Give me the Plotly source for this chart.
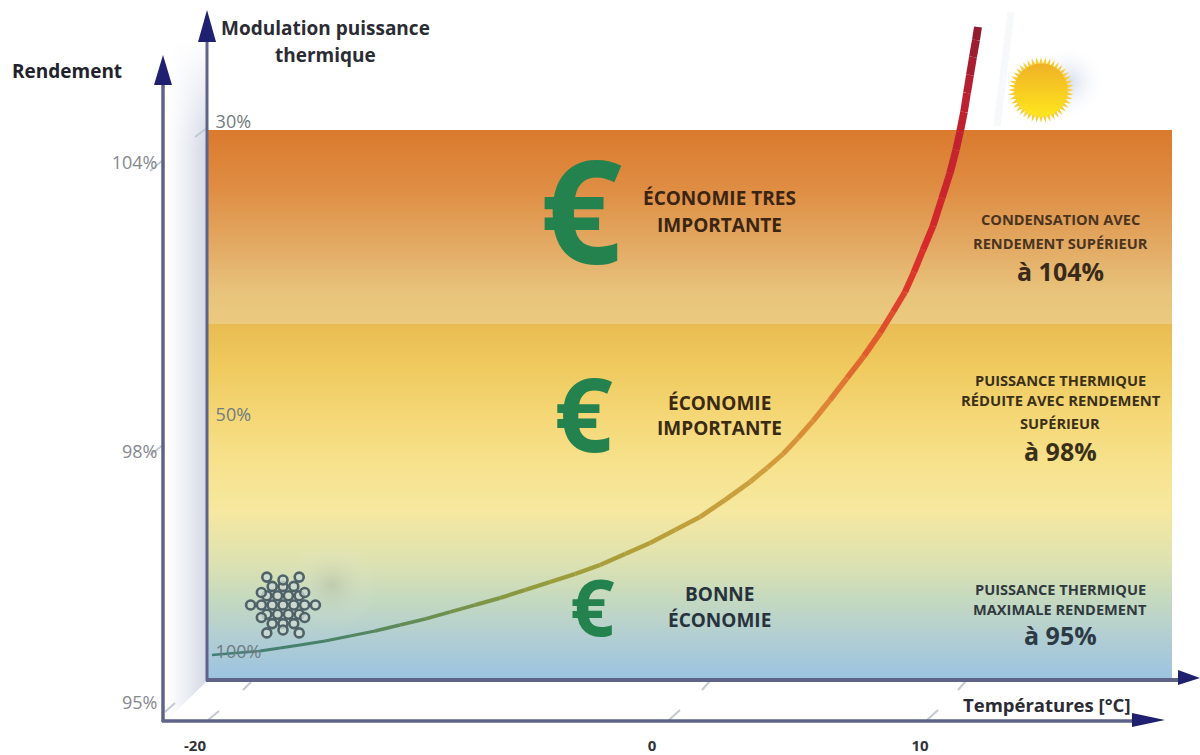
import numpy as np
import plotly.graph_objects as go
from plotly.colors import sample_colorscale

FONT = "Open Sans"

# --- values (schematic chart units, top-left origin) ---
curve_x = [212, 235, 260, 280, 300, 325, 350, 375, 400, 425, 450, 475, 500, 525, 550, 575, 600, 625, 650, 675, 700, 725, 750,
           767, 783, 798, 813, 830, 847, 864, 880, 893, 905, 914, 923, 933, 942, 950, 956, 960, 964, 967, 970, 973, 976, 978]
curve_y = [655, 653, 651, 648, 645, 641, 636, 631, 625, 619, 612, 605, 598, 590, 582, 574, 565, 554, 543, 530, 517, 500, 482,
           468, 454, 438, 421, 400, 378, 356, 333, 312, 292, 272, 250, 226, 198, 173, 150, 132, 112, 93, 75, 57, 40, 27]
# colour and width along the curve, by distance across the chart
curve_color_stops = [[0, "#3F7F7A"], [0.15, "#4A8268"], [0.3, "#6C9050"], [0.42, "#929C3C"], [0.6, "#BCA03A"], [0.72, "#D0A03E"],
                     [0.8, "#DE8434"], [0.87, "#E0562C"], [0.93, "#D82A2A"], [0.985, "#BC2030"], [1, "#8E1C30"]]
curve_width_at = [212, 500, 800, 900, 978]
curve_width_val = [2.5, 4, 5, 6, 8]

band_y = [130, 190, 250, 290, 323.9, 324, 370, 420, 470, 510, 560, 600, 640, 678]
band_colors = ["#DA7A2E", "#DF8E44", "#E3AC66", "#E8C27A", "#EBCB80", "#E9BC52", "#EFCB60", "#F5D878", "#F7E38F",
               "#F6E8A0", "#DEE2B0", "#C4D9C0", "#B0CDD4", "#9CC3E0"]

x_tick_pos = [195, 652, 920]
x_tick_text = ["-20", "0", "10"]
rend_pos = [163, 452, 703]
rend_text = ["104%", "98%", "95%"]
mod_pos = [122, 415, 652]
mod_text = ["30%", "50%", "100%"]

label_text = ["Modulation puissance", "thermique", "Rendement", "Températures [°C]",
              "ÉCONOMIE TRES", "IMPORTANTE", "ÉCONOMIE", "IMPORTANTE", "BONNE", "ÉCONOMIE",
              "CONDENSATION AVEC", "RENDEMENT SUPÉRIEUR", "à 104%",
              "PUISSANCE THERMIQUE", "RÉDUITE AVEC RENDEMENT", "SUPÉRIEUR", "à 98%",
              "PUISSANCE THERMIQUE", "MAXIMALE RENDEMENT", "à 95%"]
label_x = [325, 325, 67, 1047, 719, 719, 719, 719, 719, 719, 1060, 1060, 1060, 1060, 1061, 1060, 1060, 1060, 1060, 1060]
label_y = [28, 55, 71, 704, 198, 225, 403, 428, 594, 620, 219, 243, 271, 380, 400, 423, 451, 589, 609, 635]
label_size = [19, 19, 19, 18.5, 19, 19, 19, 19, 19, 19, 14.6, 14.6, 25, 14.6, 14.8, 14.6, 25, 14.6, 14.6, 25]
label_color = ["#2B2B33", "#2B2B33", "#22222A", "#2B2B33", "#3A2412", "#3A2412", "#3A2A12", "#3A2A12", "#27333C", "#27333C",
               "#4A3420", "#4A3420", "#3A2A1A", "#3A3018", "#3A3018", "#3A3018", "#3A3018", "#303A40", "#303A40", "#2B3A44"]

euro_x = [581, 583, 592]
euro_y = [208, 412, 606]
euro_size = [144, 103, 78]
EURO_GREEN = "#24824F"

tick_marks_x = [[195, 207], [150, 163], [150, 163], [165, 175], [243, 251], [208, 219], [702, 710], [668, 680], [958, 966], [926, 938]]
tick_marks_y = [[137, 128], [171, 160], [455, 445], [712, 703], [690, 682], [720, 711], [690, 681], [721, 710], [690, 681], [721, 710]]

fig = go.Figure()

# side wall shading
wall_x = np.linspace(165, 207, 43)
wall_y = np.arange(35, 722, 3.0)
wall_z = [[((c - 165) / 42) ** 1.2 * min(1, max(0, (r - 35) / 110)) for c in wall_x[:-1]] for r in wall_y[:-1]]
fig.add_trace(go.Heatmap(x=wall_x, y=wall_y, z=wall_z, zmin=0, zmax=1, showscale=False, hoverinfo="skip",
                         colorscale=[[0, "#FFFFFF"], [1, "#D2D7E4"]]))
fig.add_trace(go.Scatter(x=[165, 207, 207, 165], y=[722, 681, 722, 722], mode="lines", fill="toself",
                         fillcolor="#FFFFFF", line=dict(width=0), hoverinfo="skip"))

# background band gradient
grid_y = np.arange(130, 681, 1.0)
stops = [[(v - band_y[0]) / (band_y[-1] - band_y[0]), c] for v, c in zip(band_y, band_colors)]
fig.add_trace(go.Heatmap(x=[208, 1172], y=grid_y, z=[[float(v)] for v in grid_y[:-1]], zmin=band_y[0], zmax=band_y[-1],
                         colorscale=stops, showscale=False, hoverinfo="skip"))

# soft shadows and faint streak
fig.add_trace(go.Scatter(x=[1068, 332], y=[82, 585], mode="markers", hoverinfo="skip", marker=dict(
    size=[76, 90], color=["rgba(255,255,255,0)", "rgba(255,255,255,0)"],
    gradient=dict(type="radial", color=["rgba(175,190,215,0.75)", "rgba(150,160,140,0.40)"]), line=dict(width=0))))
fig.add_trace(go.Scatter(x=[1011, 997], y=[12, 126], mode="lines", line=dict(color="#F6F8FA", width=7), hoverinfo="skip"))

# tick dashes
for xs, ys in zip(tick_marks_x, tick_marks_y):
    fig.add_trace(go.Scatter(x=xs, y=ys, mode="lines", line=dict(color="#C4C8D2", width=2), hoverinfo="skip"))

# axes
for xs, ys, w in [([163, 163], [722, 80], 3.5), ([207, 207], [681, 38], 3), ([162, 1140], [721, 721], 3.5), ([206, 1182], [680, 680], 4)]:
    fig.add_trace(go.Scatter(x=xs, y=ys, mode="lines", line=dict(color="#5F6388", width=w), hoverinfo="skip"))
for xs, ys in [([207, 216, 198], [10, 42, 42]), ([163, 172, 154], [55, 85, 85]),
               ([1200, 1178, 1178], [678, 670, 685]), ([1165, 1132, 1132], [720, 713, 727])]:
    fig.add_trace(go.Scatter(x=xs, y=ys, mode="lines", fill="toself", fillcolor="#1F2070", line=dict(width=0), hoverinfo="skip"))

# curve drawn piece by piece, so colour and width can change along it
span = curve_x[-1] - curve_x[0]
for i in range(len(curve_x) - 1):
    f = (curve_x[i] + curve_x[i + 1]) / 2
    c = sample_colorscale(curve_color_stops, [(f - curve_x[0]) / span])[0]
    w = float(np.interp(f, curve_width_at, curve_width_val))
    fig.add_trace(go.Scatter(x=curve_x[i:i + 2], y=curve_y[i:i + 2], mode="lines", hoverinfo="skip", line=dict(color=c, width=w)))

# snowflake: hex lattice of rings with six corner points
sx, sy = [], []
for q in range(-3, 4):
    for r in range(-3, 4):
        s = -q - r
        if max(abs(q), abs(r), abs(s)) > 3:
            continue
        if max(abs(q), abs(r), abs(s)) == 3 and min(abs(q), abs(r), abs(s)) != 0:
            continue
        sx.append(283 + 10.8 * (q + r / 2))
        sy.append(605 + 9.3 * r)
for a in np.deg2rad(np.arange(30, 360, 60)):
    sx.append(283 + 25 * np.cos(a))
    sy.append(605 + 25 * np.sin(a))
fig.add_trace(go.Scatter(x=sx, y=sy, mode="markers", hoverinfo="skip",
                         marker=dict(symbol="circle", size=9, color="rgba(205,218,210,0.8)", line=dict(width=2.6, color="#4E6268"))))

# sun
ang = np.linspace(0, 2 * np.pi, 89)
rad = np.where(np.arange(89) % 2 == 0, 33, 26)
fig.add_trace(go.Scatter(x=1041 + rad * np.cos(ang), y=90 + rad * np.sin(ang), mode="lines", fill="toself",
                         fillcolor="#F8CE38", line=dict(width=0), hoverinfo="skip"))
fig.add_trace(go.Scatter(x=[1041], y=[90], mode="markers", hoverinfo="skip",
                         marker=dict(size=53, color="#EFB126", gradient=dict(type="vertical", color="#FFE61E"), line=dict(width=0))))

# hidden trace that carries the second y axis
fig.add_trace(go.Scatter(x=[207] * 3, y=mod_pos, yaxis="y2", mode="markers", marker=dict(opacity=0), hoverinfo="skip"))

# euro signs
for ex, ey, es in zip(euro_x, euro_y, euro_size):
    fig.add_annotation(x=ex, y=ey, text="<b>€</b>", showarrow=False, font=dict(family=FONT, size=es, color=EURO_GREEN),
                       xanchor="center", yanchor="middle")

for t, x, y, s, c in zip(label_text, label_x, label_y, label_size, label_color):
    fig.add_annotation(x=x, y=y, text=f"<b>{t}</b>", showarrow=False, font=dict(family=FONT, size=s, color=c),
                       xanchor="center", yanchor="middle")

fig.update_layout(
    width=1200, height=755, margin=dict(l=0, r=0, t=0, b=0, pad=0, autoexpand=False), paper_bgcolor="white", plot_bgcolor="white", showlegend=False,
    xaxis=dict(range=[0, 1200], tickvals=x_tick_pos, ticktext=[f"<b>{t}</b>" for t in x_tick_text], anchor="free", position=34 / 755,
               automargin=False, showgrid=False, zeroline=False, showline=False, ticks="outside", ticklen=11, tickcolor="rgba(0,0,0,0)",
               tickfont=dict(family=FONT, size=15, color="#33333A")),
    yaxis=dict(range=[755, 0], tickvals=rend_pos, ticktext=rend_text, anchor="free", position=163 / 1200,
               automargin=False, showgrid=False, zeroline=False, showline=False, ticks="outside", ticklen=2, tickcolor="rgba(0,0,0,0)",
               tickfont=dict(family=FONT, size=18, color="#858890")),
    yaxis2=dict(range=[755, 0], overlaying="y", side="right", anchor="free", position=207 / 1200, tickvals=mod_pos, ticktext=mod_text,
                automargin=False, showgrid=False, zeroline=False, showline=False, ticks="outside", ticklen=4, tickcolor="rgba(0,0,0,0)",
                tickfont=dict(family=FONT, size=18, color="#6F7C80")),
)
fig.write_html("out.html", config={"displayModeBar": False},
               post_script="document.body.style.margin='0';document.body.style.overflow='hidden';")
